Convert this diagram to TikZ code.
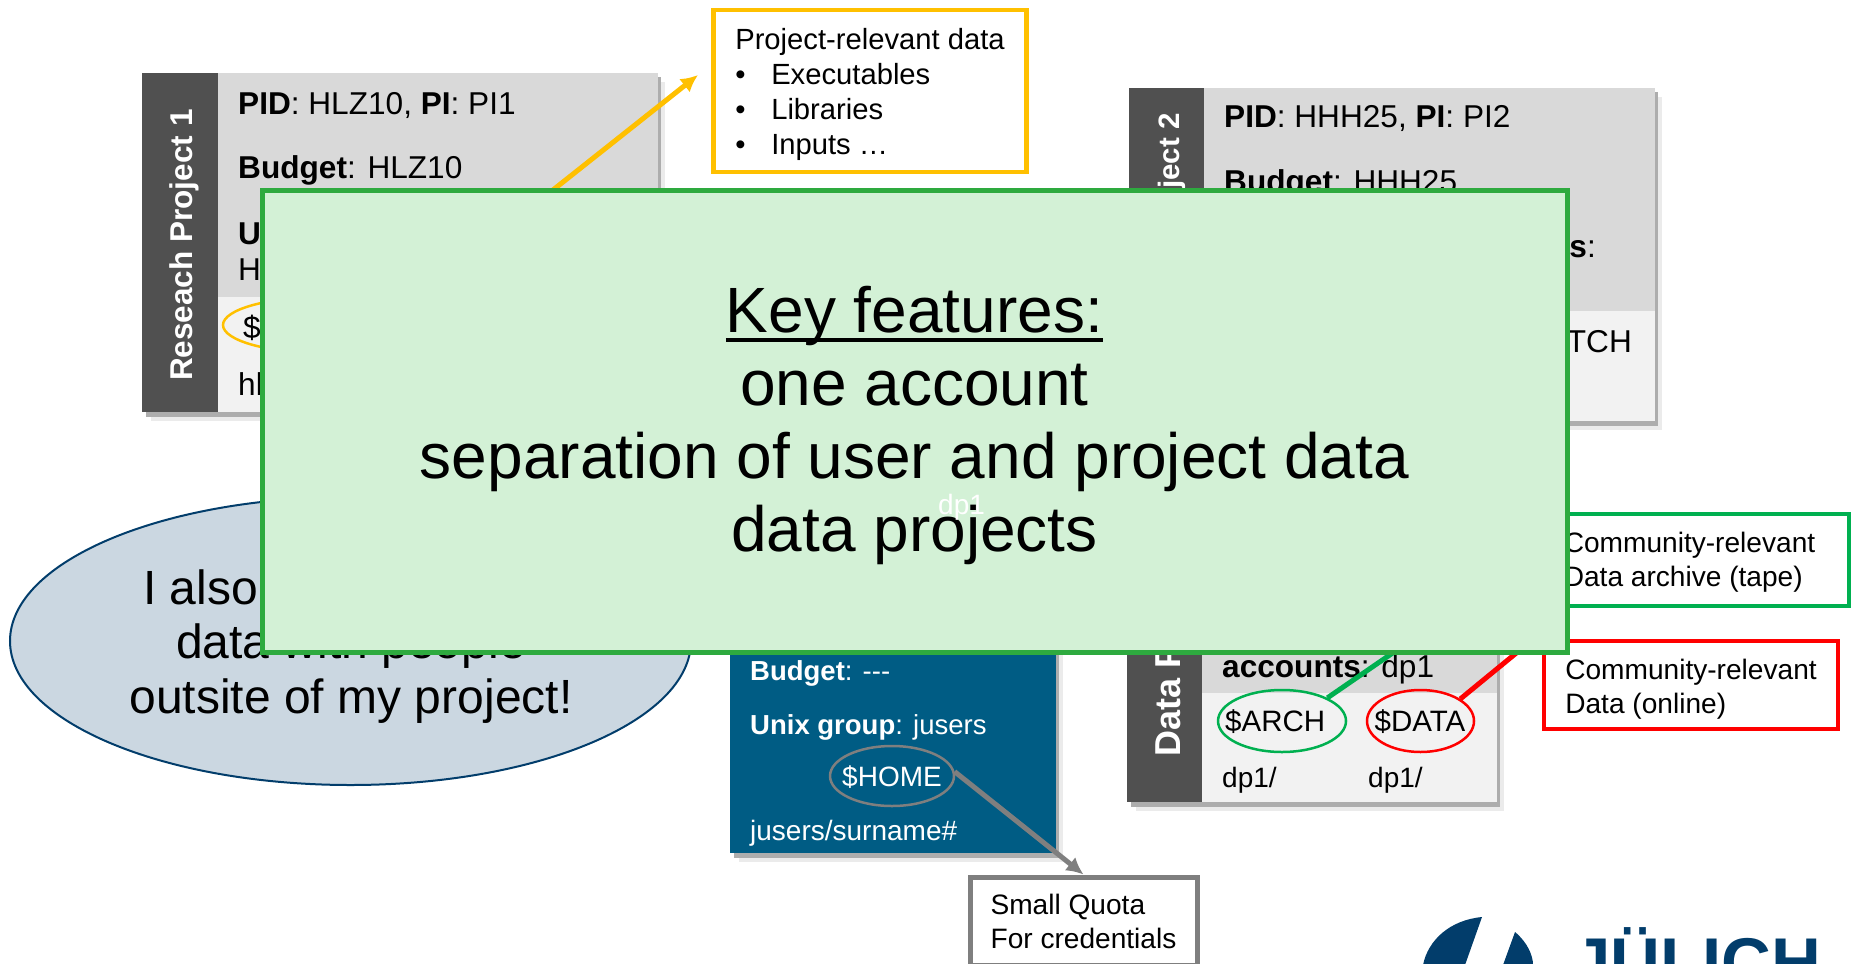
\documentclass[tikz,border=0pt]{standalone}
\usepackage{fontspec}
\setmainfont{Liberation Sans}
\usetikzlibrary{arrows.meta,shapes.geometric}

\definecolor{bandgrey}{HTML}{505050}
\definecolor{cardgrey}{HTML}{D9D9D9}
\definecolor{cardlight}{HTML}{F2F2F2}
\definecolor{cardblue}{HTML}{005C84}
\definecolor{fzjblue}{HTML}{023D6B}
\definecolor{shareblue}{HTML}{CBD7E1}
\definecolor{notegreen}{HTML}{D3F1D6}
\definecolor{noteedge}{HTML}{2EAA3F}
\definecolor{tipyellow}{HTML}{FFC000}
\definecolor{tipgreen}{HTML}{00B050}
\definecolor{tipgrey}{HTML}{7F7F7F}

\newcommand{\keyline}[1]{\sbox0{#1}\rlap{\rule[-9pt]{\wd0}{4pt}}\box0}

\tikzset{
  txt/.style={anchor=base west,inner sep=0pt,font=\fontsize{28}{34}\selectfont},
  bigtxt/.style={txt,font=\fontsize{31.6}{38}\selectfont},
  bluetxt/.style={txt,text=white,font=\fontsize{27.5}{34}\selectfont},
  sharetxt/.style={txt,anchor=base,font=\fontsize{48}{54}\selectfont},
  bandtxt/.style={anchor=base west,inner sep=0pt,rotate=90,text=white,font=\bfseries\fontsize{31.5}{38}\selectfont},
  tipbox/.style={draw,line width=4.5pt,fill=white,align=left,font=\fontsize{28.1}{34}\selectfont},
  stor/.style={draw,ellipse,line width=2.5pt,inner sep=0pt},
  tipline/.style={line width=5pt,-{Latex[length=17pt,width=17pt]}}
}

\begin{document}
\begin{tikzpicture}[x=1pt,y=-1pt]
  \useasboundingbox (0,0) rectangle (1851,963);
  % shadows of the cards
  \foreach \l/\t/\r/\b in {142/73/658/412,1129/88/1655/421,730/470/1056/853,1127/470/1497/802}{
    \fill[black!8] (\l+9,\t+9) rectangle (\r+7,\b+9);
    \fill[black!32] (\l+4,\t+4) rectangle (\r+3,\b+5);
  }
  % project 1
  \fill[cardgrey] (218,73) rectangle (658,297);
  \fill[cardlight] (218,297) rectangle (658,412);
  \fill[bandgrey] (142,73) rectangle (218,412);
  \node[bandtxt] (bandone) at (192,381) {Reseach Project 1};
  \node[bigtxt] (pidone) at (238,114) {\textbf{PID}: HLZ10, \textbf{PI}: PI1};
  \node[bigtxt] (budgetone) at (238,178) {\textbf{Budget}: HLZ10};
  \node[bigtxt] (unixone) at (238,244) {\textbf{U}};
  \node[bigtxt] (groupone) at (238,280) {H};
  \node[bigtxt] (pathone) at (238,395) {hl};
  \node[stor,draw=tipyellow,minimum width=200pt,minimum height=56pt] (projell) at (323,325) {};
  \node[bigtxt] (projtxt) at (243,338) {\$};
  % project 2
  \fill[cardgrey] (1204,88) rectangle (1655,311);
  \fill[cardlight] (1204,311) rectangle (1655,421);
  \fill[bandgrey] (1129,88) rectangle (1204,421);
  \node[bandtxt,anchor=base east,font=\bfseries\fontsize{29.5}{36}\selectfont] (bandtwo) at (1179,113) {ject 2};
  \node[bigtxt] (pidtwo) at (1224,128) {\textbf{PID}: HHH25, \textbf{PI}: PI2};
  \node[bigtxt] (budgettwo) at (1224,192) {\textbf{Budget}: HHH25};
  \node[bigtxt,anchor=base east] (unixtwo) at (1596,257) {\textbf{s}:};
  \node[bigtxt,anchor=base east] (pathtwo) at (1632,352) {ATCH};
  % personal account
  \fill[cardblue] (730,470) rectangle (1056,853);
  \node[bluetxt] (budgetjs) at (750,680) {\textbf{Budget}: -{}-{}-};
  \node[bluetxt] (unixjs) at (750,734) {\textbf{Unix group}: jusers};
  \node[stor,draw=tipgrey,minimum width=124pt,minimum height=60pt] (homeell) at (892,776) {};
  \node[txt,anchor=base,text=white] (hometxt) at (892,786) {\$HOME};
  \node[txt,text=white] (pathjs) at (750,840) {jusers/surname\#};
  % data project
  \fill[cardgrey] (1202,470) rectangle (1497,693);
  \fill[cardlight] (1202,693) rectangle (1497,802);
  \fill[bandgrey] (1127,470) rectangle (1202,802);
  \node[bandtxt,font=\bfseries\fontsize{36}{42}\selectfont] (banddata) at (1180,757) {Data P};
  \node[bigtxt] (accdata) at (1222,677) {\textbf{accounts}: dp1};
  \node[stor,draw=tipgreen,minimum width=128pt,minimum height=62pt] (archell) at (1282,721) {};
  \node[stor,draw=red,minimum width=107pt,minimum height=62pt] (dataell) at (1420.5,721) {};
  \node[txt,font=\fontsize{29.5}{34}\selectfont] (archtxt) at (1225,731) {\$ARCH};
  \node[txt,anchor=base,font=\fontsize{29.5}{34}\selectfont] (datatxt) at (1420,731) {\$DATA};
  \node[txt] (archpath) at (1222,787) {dp1/};
  \node[txt] (datapath) at (1368,787) {dp1/};
  % callouts
  \node[tipbox,draw=tipyellow,font=\fontsize{29.2}{35}\selectfont,minimum width=313pt,minimum height=162pt] (yellowbox) at (870,91) {\rule{0pt}{28pt}Project-relevant data\\\makebox[36pt][l]{\textbullet}Executables\\\makebox[36pt][l]{\textbullet}Libraries\\\makebox[36pt][l]{\textbullet}Inputs …};
  \node[tipbox,draw=tipgreen,minimum width=319pt,minimum height=92pt] (greenbox) at (1689.5,560) {\rule{0pt}{25pt}Community-relevant\\Data archive (tape)};
  \node[tipbox,draw=red,minimum width=294pt,minimum height=88pt] (redbox) at (1691,685) {\rule{0pt}{28pt}Community-relevant\\Data (online)};
  \node[tipbox,draw=tipgrey,line width=5pt,minimum width=227pt,minimum height=88pt] (quotabox) at (1083.5,921) {Small Quota\\For credentials};
  \coordinate (yellowtip) at (698,75);
  \coordinate (redtip) at (1537,636);
  \draw[tipline,draw=tipyellow] (projell.12) -- (yellowtip);
  \draw[line width=5pt,draw=tipgreen] (archell.27) -- (greenbox.west);
  \draw[tipline,draw=red] (dataell.29) -- (redtip);
  \draw[tipline,draw=tipgrey] (homeell.4) -- (quotabox.north);
  % ellipse with the question
  \node[draw=fzjblue,fill=shareblue,line width=2pt,ellipse,minimum width=681pt,minimum height=288pt] (shareell) at (350.5,641) {};
  \node[sharetxt,anchor=base west] (sharea) at (143,604) {I also};
  \node[sharetxt] (shareb) at (351,658) {data with people};
  \node[sharetxt] (sharec) at (351,713) {outsite of my project!};
  % logo
  \fill[fzjblue] (1482,917) .. controls (1450,920) and (1428,940) .. (1423,965) -- (1465,965) -- cycle;
  \fill[fzjblue] (1515,932) -- (1503,965) -- (1533,965) .. controls (1533,955) and (1527,942) .. (1515,932) -- cycle;
  \node[txt,text=fzjblue,font=\bfseries\fontsize{69}{76}\selectfont] (logotxt) at (1572,986) {JÜLICH};
  % the note on top
  \node[draw=noteedge,fill=notegreen,line width=5pt,minimum width=1305pt,minimum height=462pt,align=center,font=\fontsize{64}{73}\selectfont] (notebox) at (914.5,421) {\rule{0pt}{56pt}\keyline{Key features:}\\one account\\separation of user and project data\\data projects};
  \node[txt,text=white] (dpover) at (938,514) {dp1};
\end{tikzpicture}
\end{document}
